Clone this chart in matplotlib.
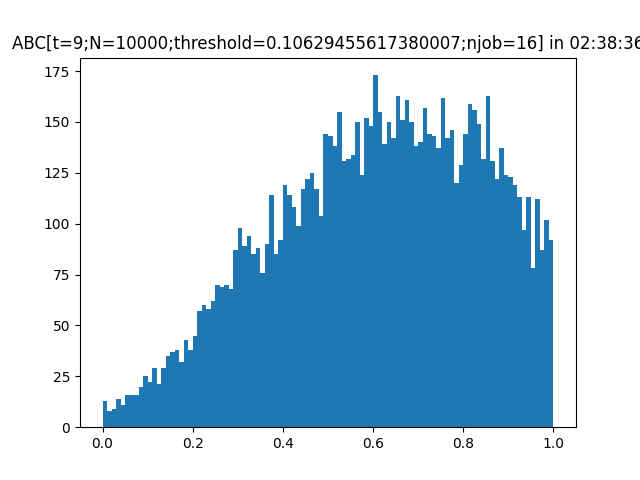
import numpy as np
import matplotlib
matplotlib.use("Agg")
import matplotlib.pyplot as plt

bin_edges = np.linspace(0.0, 1.0, 101)
counts = [13, 8, 9, 14, 11, 16, 16, 16, 20, 25,
          22, 29, 21, 29, 35, 37, 38, 32, 43, 38,
          45, 57, 60, 58, 62, 70, 69, 70, 68, 87,
          98, 89, 94, 85, 88, 76, 90, 114, 85, 92,
          119, 114, 108, 99, 117, 122, 125, 117, 104, 144,
          143, 138, 155, 131, 132, 134, 150, 124, 152, 148,
          173, 155, 139, 150, 142, 163, 151, 161, 150, 138,
          140, 157, 144, 143, 137, 162, 142, 146, 120, 129,
          144, 159, 156, 149, 132, 163, 131, 122, 137, 124,
          123, 119, 113, 97, 113, 78, 112, 87, 102, 92]
title = "ABC[t=9;N=10000;threshold=0.10629455617380007;njob=16] in 02:38:36"

centers = (bin_edges[:-1] + bin_edges[1:]) / 2
fig, ax = plt.subplots(figsize=(6.4, 4.8), dpi=100)
ax.hist(centers, bins=bin_edges, weights=counts)
ax.set_title(title)
fig.savefig("out.png")
